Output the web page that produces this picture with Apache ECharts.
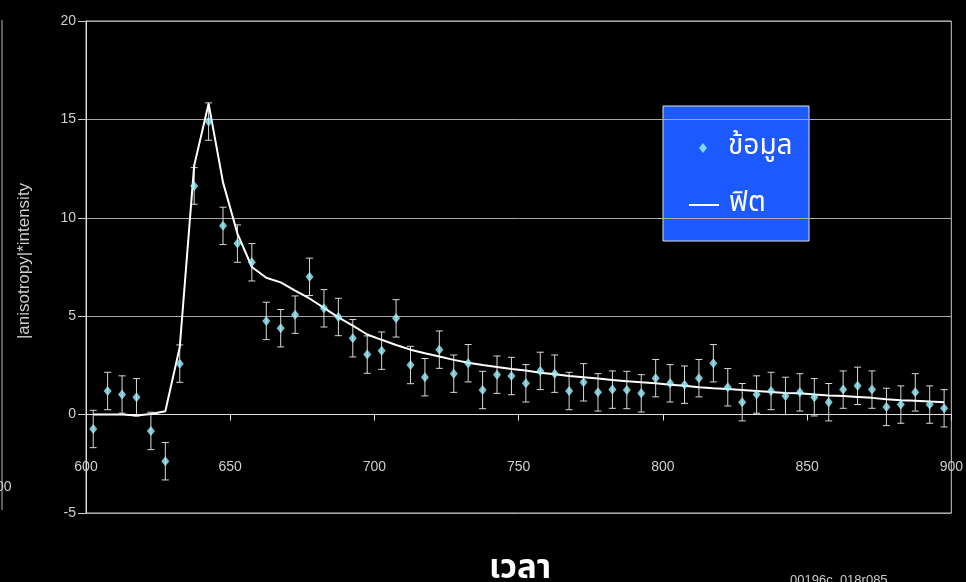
<!DOCTYPE html>
<html>
<head>
<meta charset="utf-8">
<script src="https://cdn.jsdelivr.net/npm/echarts@6/dist/echarts.min.js"></script>
<style>html,body{margin:0;padding:0;background:#000;}#c{width:966px;height:582px;}</style>
</head>
<body>
<div id="c"></div>
<script>
var xValues = [602.5,607.5,612.5,617.5,622.5,627.5,632.5,637.5,642.5,647.5,
  652.5,657.5,662.5,667.5,672.5,677.5,682.5,687.5,692.5,697.5,
  702.5,707.5,712.5,717.5,722.5,727.5,732.5,737.5,742.5,747.5,
  752.5,757.5,762.5,767.5,772.5,777.5,782.5,787.5,792.5,797.5,
  802.5,807.5,812.5,817.5,822.5,827.5,832.5,837.5,842.5,847.5,
  852.5,857.5,862.5,867.5,872.5,877.5,882.5,887.5,892.5,897.5];
var dataValues = [-0.73,1.2,1.02,0.88,-0.83,-2.37,2.59,11.62,14.89,9.59,
  8.69,7.74,4.76,4.39,5.08,7.0,5.40,4.96,3.88,3.05,
  3.25,4.89,2.52,1.90,3.30,2.08,2.61,1.25,2.03,1.96,
  1.59,2.22,2.08,1.20,1.64,1.13,1.27,1.25,1.08,1.85,
  1.59,1.52,1.85,2.61,1.39,0.63,1.02,1.20,0.95,1.13,
  0.88,0.63,1.27,1.46,1.27,0.39,0.51,1.13,0.51,0.32];
var errValues = [0.95,0.95,0.95,0.95,0.95,0.95,0.95,0.93,0.95,0.95,
  0.95,0.95,0.95,0.95,0.95,0.95,0.95,0.95,0.95,0.95,
  0.95,0.95,0.95,0.95,0.95,0.95,0.95,0.95,0.95,0.95,
  0.95,0.95,0.95,0.95,0.95,0.95,0.95,0.95,0.95,0.95,
  0.95,0.95,0.95,0.95,0.95,0.95,0.95,0.95,0.95,0.95,
  0.95,0.95,0.95,0.95,0.95,0.95,0.95,0.95,0.95,0.95];
var fitValues = [0,0,0,-0.05,0.03,0.17,3.42,12.65,15.8,11.8,
  9.2,7.5,6.95,6.72,6.3,5.9,5.42,4.94,4.52,4.07,
  3.8,3.54,3.30,3.12,2.95,2.78,2.64,2.52,2.42,2.32,
  2.24,2.13,2.05,1.96,1.90,1.83,1.76,1.70,1.64,1.59,
  1.52,1.47,1.39,1.34,1.30,1.25,1.20,1.15,1.10,1.08,
  1.02,0.97,0.95,0.90,0.85,0.78,0.73,0.70,0.66,0.63];
var xTicks = [600,650,700,750,800,850,900];
var yTicks = [-5,0,5,10,15,20];
var seriesNames = ['ข้อมูล','ฟิต'];
var xTitle = 'เวลา';
var yTitle = '|anisotropy|*intensity';

var scatterData = xValues.map(function(x,i){return [x,dataValues[i]];});
var errData = xValues.map(function(x,i){return [x,dataValues[i]-errValues[i],dataValues[i]+errValues[i]];});
var fitData = xValues.map(function(x,i){return [x,fitValues[i]];});

var chart = echarts.init(document.getElementById('c'));
var thaiFont = '"Noto Sans Thai","Noto Sans","DejaVu Sans",sans-serif';
var latinFont = '"Liberation Sans",Arial,sans-serif';
var legendText = {color:'#fff',fontSize:28,lineHeight:36,fontFamily:thaiFont};
chart.setOption({
  backgroundColor:'#000',
  animation:false,
  title:[
    {text:xTitle,left:484,top:550,textStyle:{color:'#fff',fontSize:33,fontWeight:'bold',fontFamily:thaiFont}},
    {text:'00196c_018r085',left:785,top:569,textStyle:{color:'#ccc',fontSize:13,fontWeight:'normal',fontFamily:latinFont}}
  ],
  graphic:[
    {type:'line',shape:{x1:2,y1:20,x2:2,y2:510},style:{stroke:'#bbb',lineWidth:1}},
    {type:'text',left:-4,top:480,style:{text:'00',fill:'#ccc',font:'14px "Liberation Sans",Arial'}},
    {type:'rect',z:-1,shape:{x:663,y:106,width:146,height:135},style:{fill:'#1c5aff',stroke:'#e0e0e0',lineWidth:1}}
  ],
  legend:[
    {
      orient:'vertical',left:699,top:130,padding:0,itemWidth:8,itemHeight:10,z:10,
      textStyle:Object.assign({padding:[0,0,0,16]},legendText),
      data:[{name:seriesNames[0],icon:'diamond'}]
    },
    {
      orient:'vertical',left:689,top:187,padding:0,itemWidth:30,itemHeight:2,z:10,
      textStyle:Object.assign({padding:[0,0,0,5]},legendText),
      data:[{name:seriesNames[1],icon:'rect',itemStyle:{color:'#fff'}}]
    }
  ],
  grid:{left:86,right:12,top:21,bottom:69,show:true,borderColor:'#c8c8c8',borderWidth:1},
  xAxis:{
    type:'value',min:600,max:900,interval:50,
    axisLine:{onZero:true,lineStyle:{color:'#e0e0e0',width:1}},
    axisTick:{show:true,length:6,lineStyle:{color:'#e0e0e0'}},
    axisLabel:{margin:-53,color:'#cfcfcf',fontSize:14,fontFamily:latinFont,showMinLabel:true,showMaxLabel:true},
    splitLine:{show:false}
  },
  yAxis:{
    type:'value',min:-5,max:20,interval:5,
    name:yTitle,nameLocation:'middle',nameGap:53,nameRotate:90,
    nameTextStyle:{color:'#cfcfcf',fontSize:17,fontFamily:latinFont,padding:[0,0,0,12]},
    axisLine:{show:true,lineStyle:{color:'#e0e0e0'}},
    axisTick:{show:true,length:8,lineStyle:{color:'#cfcfcf'}},
    axisLabel:{margin:10,color:'#cfcfcf',fontSize:14,fontFamily:latinFont},
    splitLine:{show:true,lineStyle:{color:'#a8a8a8',width:1}}
  },
  series:[
    {
      type:'custom',name:'err',silent:true,z:2,
      data:errData,
      renderItem:function(params,api){
        var x=api.value(0);
        var lo=api.coord([x,api.value(1)]);
        var hi=api.coord([x,api.value(2)]);
        var w=3.5;
        var st={stroke:'#d8d8d8',lineWidth:1};
        return {type:'group',children:[
          {type:'line',shape:{x1:lo[0],y1:lo[1],x2:hi[0],y2:hi[1]},style:st},
          {type:'line',shape:{x1:lo[0]-w,y1:lo[1],x2:lo[0]+w,y2:lo[1]},style:st},
          {type:'line',shape:{x1:hi[0]-w,y1:hi[1],x2:hi[0]+w,y2:hi[1]},style:st}
        ]};
      }
    },
    {
      type:'line',name:seriesNames[1],data:fitData,symbol:'none',z:3,
      lineStyle:{color:'#fff',width:2},itemStyle:{color:'#fff'}
    },
    {
      type:'scatter',name:seriesNames[0],data:scatterData,symbol:'diamond',symbolSize:[8,10],z:4,
      itemStyle:{color:'#a0f2ff'}
    }
  ]
});
</script>
</body>
</html>
